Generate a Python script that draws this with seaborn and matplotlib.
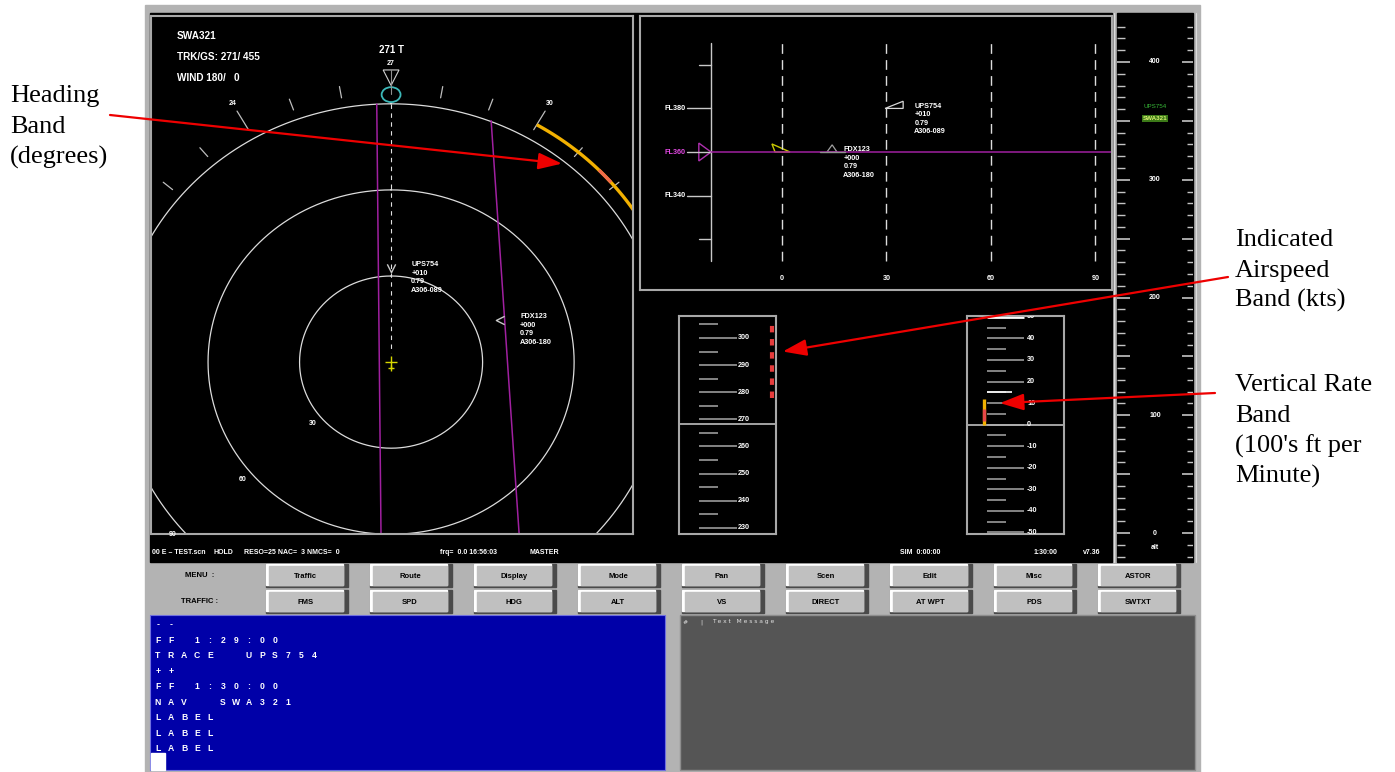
import numpy as np
import pandas as pd
import matplotlib
matplotlib.use("Agg")
import matplotlib.pyplot as plt
from matplotlib import font_manager
from matplotlib.patches import Rectangle, Polygon, Ellipse
from matplotlib.path import Path
import seaborn as sns

sns.set_style("white")
installed = {f.name for f in font_manager.fontManager.ttflist}
UI_FONT = 'Liberation Sans Narrow' if 'Liberation Sans Narrow' in installed else 'Liberation Sans'
SERIF = 'Liberation Serif' if 'Liberation Serif' in installed else 'DejaVu Serif'
plt.rcParams['font.family'] = [UI_FONT, 'DejaVu Sans']

W, H = 1395, 772

# ---------------- data ----------------
own_id = "SWA321"
own_track = 271
own_gs = 455
wind_dir, wind_spd = 180, 0
own_fl = 360
own_ias = 268.3
rose_up = 270          # heading drawn at the top of the rose

# radar (nm, ownship at origin)
ring_nm = [30, 60, 90]
ring_label_rel = 230
hdg_ticks = list(range(180, 370, 10))
hdg_labels = [240, 270, 300]
hdg_band_yellow = [300, 330]
hdg_band_red = [315.5, 319]
hdg_band_r = 95.5
route1_x = [-4.7, -3.3]
route1_y = [89.9, -60.3]
route2_x = [32.8, 42.0]
route2_y = [84.1, -60.3]

traffic_ids = ["UPS754", "FDX123"]
traffic_x = [0.0, 35.7]
traffic_y = [32.8, 14.6]
traffic_vs = ["+010", "+000"]
traffic_mach = ["0.79", "0.79"]
traffic_type = ["A306-089", "A306-180"]

# vertical profile (nm vs FL)
prof_fl_ticks = [320, 340, 360, 380, 400]
prof_fl_labels = [340, 360, 380]
prof_dist_ticks = [0, 30, 60, 90]
prof_traffic_dist = [34.8, 14.4]
prof_traffic_fl = [380, 360]

# speed band (kts)
ias_ticks = [230, 240, 250, 260, 270, 280, 290, 300]
ias_minor = [235, 245, 255, 265, 275, 285, 295, 305]
ias_band = [278, 306]

# vertical rate band (100 ft/min)
vs_ticks = [-50, -40, -30, -20, -10, 0, 10, 20, 30, 40, 50]
vs_minor = [-45, -35, -25, -15, -5, 5, 15, 25, 35, 45]
vs_band_yellow = [0, 12]
vs_band_red = [1.8, 7.4]
vs_target = 15

# altitude tape
alt_labels = [0, 100, 200, 300, 400]
alt_tags = ["UPS754", "SWA321"]
alt_tag_vals = [362, 352]

# status bar / buttons / console
status_text = ["00 E \u2013 TEST.scn", "HOLD", "RESO=25 NAC=  3 NMCS=  0", "frq=  0.0 16:56:03",
               "MASTER", "SIM  0:00:00", "1:30:00", "v7.36"]
status_x = [152, 214, 244, 440, 530, 900, 1034, 1083]
menu_buttons = ["Traffic", "Route", "Display", "Mode", "Pan", "Scen", "Edit", "Misc", "ASTOR"]
traffic_buttons = ["FMS", "SPD", "HDG", "ALT", "VS", "DIRECT", "AT WPT", "PDS", "SWTXT"]
console_lines = ["--", "FF 1:29:00", "TRACE  UPS754", "++", "FF 1:30:00", "NAV  SWA321",
                 "LABEL", "LABEL", "LABEL"]


def hdg_xy(hdg, r):
    a = np.radians(np.asarray(hdg, dtype=float) - rose_up)
    return r * np.sin(a), r * np.cos(a)


fig = plt.figure(figsize=(W / 100, H / 100), dpi=100)
fig.patch.set_facecolor('white')


def add_px_axes(x0, y0, x1, y1, **kw):
    return fig.add_axes([x0 / W, 1 - y1 / H, (x1 - x0) / W, (y1 - y0) / H], **kw)


def panel(ax, edge='#a8a8a8', lw=1.5):
    ax.set_facecolor('black')
    ax.set_xticks([]); ax.set_yticks([])
    ax.set_xlabel(''); ax.set_ylabel('')
    for s in ax.spines.values():
        s.set_color(edge); s.set_linewidth(lw)


# ---------------- background / chrome ----------------
bg = add_px_axes(0, 0, W, H)
bg.set_xlim(0, W); bg.set_ylim(H, 0); bg.axis('off')
bg.add_patch(Rectangle((145, 5), 1055, 767, color='#b3b3b3'))
bg.add_patch(Rectangle((150, 13), 962, 549, color='black'))
bg.add_patch(Rectangle((1117, 13), 76, 549, color='black'))
bg.plot([1114, 1114], [13, 562], color='#dcdcdc', lw=0.8)
bg.plot([1196, 1196], [13, 562], color='#dcdcdc', lw=0.8)

btn_x0, btn_step, btn_w, btn_h = 266, 104, 82, 23
for labels, y0, head in zip([menu_buttons, traffic_buttons], [564, 590], ["MENU  :", "TRAFFIC :"]):
    bg.text(200, y0 + btn_h / 2, head, ha='center', va='center', fontsize=5.5,
            fontweight='bold', color='black')
    for i, lab in enumerate(labels):
        x0 = btn_x0 + i * btn_step
        bg.add_patch(Rectangle((x0, y0), btn_w, btn_h, color='#4a4a4a'))
        bg.add_patch(Rectangle((x0, y0), btn_w - 5, btn_h - 2, color='white'))
        bg.add_patch(Rectangle((x0 + 3, y0 + 2), btn_w - 8, btn_h - 4, color='#c0c0c0'))
        bg.text(x0 + btn_w / 2 - 1, y0 + btn_h / 2 + 0.5, lab, ha='center', va='center',
                fontsize=5.5, fontweight='bold', color='black')

bg.add_patch(Rectangle((150, 615), 515, 155, facecolor='#0000a8', edgecolor='#7070e0', lw=0.8))
bg.add_patch(Rectangle((151, 753), 14, 17, color='white'))
for j, line in enumerate(console_lines):
    for i, ch in enumerate(line):
        if ch != ' ':
            bg.text(158 + i * 13, 625 + j * 15.45, ch, ha='center', va='center',
                    fontsize=6.2, fontweight='bold', color='white')

bg.add_patch(Rectangle((680, 615), 515, 155, facecolor='#555555', edgecolor='#8e8e8e', lw=1))
bg.text(683, 622, "#", ha='left', va='center', fontsize=4.5, color='#e0e0e0', family='DejaVu Sans')
bg.text(700, 622, "|", ha='left', va='center', fontsize=4.5, color='#e0e0e0', family='DejaVu Sans')
bg.text(712, 622, "T e x t   M e s s a g e", ha='left', va='center', fontsize=4.3,
        color='#e0e0e0', family='DejaVu Sans')

for s, x in zip(status_text, status_x):
    bg.text(x, 553, s, ha='left', va='center', fontsize=5.0, fontweight='bold', color='white')

# ---------------- radar ----------------
ax_r = add_px_axes(151, 16, 633, 534)
theta = np.linspace(0, 2 * np.pi, 721)
ring_df = pd.concat([pd.DataFrame({'x': r * np.sin(theta), 'y': r * np.cos(theta), 'ring': r})
                     for r in ring_nm], ignore_index=True)
sns.lineplot(data=ring_df, x='x', y='y', units='ring', estimator=None, sort=False,
             color='#dcdcdc', linewidth=0.9, ax=ax_r, legend=False)
panel(ax_r)
ax_r.set_xlim(-78.7, 79.3)
ax_r.set_ylim(-59.9, 120.6)

for h in hdg_ticks:
    if h == rose_up:
        continue
    r1 = 101 if h in hdg_labels else 97.5
    x0, y0 = hdg_xy(h, 93.5)
    x1, y1 = hdg_xy(h, r1)
    ax_r.plot([x0, x1], [y0, y1], color='#bdbdbd', lw=0.9)
for h in hdg_labels:
    x, y = hdg_xy(h, 104)
    ax_r.text(x, y, f"{h // 10}", ha='center', va='center', fontsize=5, fontweight='bold', color='white')

band = np.linspace(hdg_band_yellow[0], hdg_band_yellow[1], 60)
ax_r.plot(*hdg_xy(band, hdg_band_r), color='#f2b100', lw=2.4, solid_capstyle='butt')
band = np.linspace(hdg_band_red[0], hdg_band_red[1], 20)
ax_r.plot(*hdg_xy(band, hdg_band_r), color='#f06a4a', lw=2.4, solid_capstyle='butt')

ax_r.plot(route1_x, route1_y, color='#a020a0', lw=1.1)
ax_r.plot(route2_x, route2_y, color='#a020a0', lw=1.1)

# track marker
ax_r.text(0, 108.7, f"{own_track} T", ha='center', va='center', fontsize=7, fontweight='bold', color='white')
ax_r.add_patch(Polygon([(-2.6, 101.8), (2.6, 101.8), (0, 96.4)], closed=True, fill=False,
                       edgecolor='#d0d0d0', lw=0.8))
ax_r.plot([0, 0], [101.8, 93.5], color='#909090', lw=0.8)
ax_r.add_patch(Ellipse((0, 93.2), 6.2, 5.2, fill=False, edgecolor='#3cb8b8', lw=1.3))
ax_r.plot([0, 0], [90, 3], color='#e0e0e0', lw=0.8, dashes=(4, 4))

# ownship
ax_r.plot([0], [0], marker='+', ms=9, mew=1, color='#d6d600')
ax_r.plot([0], [-2.1], marker='+', ms=4, mew=1, color='#d6d600')

for r in ring_nm:
    x, y = hdg_xy(rose_up + ring_label_rel, r + 3.5)
    ax_r.text(x, y, f"{r}", ha='center', va='center', fontsize=5, fontweight='bold', color='white')

chev_down = Path([(-1, 1), (0, -1), (1, 1)], [Path.MOVETO, Path.LINETO, Path.LINETO])
chev_left = Path([(1, 1), (-1, 0), (1, -1)], [Path.MOVETO, Path.LINETO, Path.LINETO])
for tid, tx, ty, vs, mach, typ, mk in zip(traffic_ids, traffic_x, traffic_y, traffic_vs,
                                          traffic_mach, traffic_type, [chev_down, chev_left]):
    ax_r.plot([tx], [ty], marker=mk, ms=6, mfc='none', mec='#c8c8c8', mew=1)
    ax_r.annotate(f"{tid}\n{vs}\n{mach}\n{typ}", xy=(tx, ty), xytext=(14.5, 5),
                  textcoords='offset points', ha='left', va='top', fontsize=5.2,
                  fontweight='bold', color='white', linespacing=1.3)

# ---------------- vertical profile ----------------
ax_p = add_px_axes(640, 16, 1112, 290)
panel(ax_p)
ax_p.set_xlim(-40.8, 94.8)
ax_p.set_ylim(296.7, 422.4)
ax_p.plot([-20.4, -20.4], [310, 410], color='#c8c8c8', lw=1)
for fl in prof_fl_ticks:
    x0 = -27.3 if fl in prof_fl_labels else -23.9
    ax_p.plot([x0, -20.4], [fl, fl], color='#c8c8c8', lw=1)
for fl in prof_fl_labels:
    c = '#e048e0' if fl == own_fl else 'white'
    ax_p.text(-27.6, fl, f"FL{fl}", ha='right', va='center', fontsize=5.2, fontweight='bold', color=c)
for d in prof_dist_ticks:
    ax_p.plot([d, d], [310, 410], color='#dcdcdc', lw=1, dashes=(7, 4.5))
    ax_p.text(d, 302.2, f"{d}", ha='center', va='center', fontsize=5.2, fontweight='bold', color='white')
ax_p.plot([-20.4, 94.8], [own_fl, own_fl], color='#a020a0', lw=1.1)
ax_p.add_patch(Polygon([(-23.9, 364.1), (-23.9, 355.9), (-20.4, own_fl)], closed=True, fill=False,
                       edgecolor='#b030b0', lw=1))
ax_p.add_patch(Polygon([(-2.9, 363.7), (-2.0, own_fl), (2.3, own_fl)], closed=True, fill=False,
                       edgecolor='#c8c800', lw=1))
ux, fx = prof_traffic_dist
ufl, ffl = prof_traffic_fl
ax_p.plot([fx - 3.5, fx + 3.7], [ffl, ffl], color='#909090', lw=1)
ax_p.add_patch(Polygon([(fx - 1.5, ffl), (fx, ffl + 3.3), (fx + 1.4, ffl)], closed=True, fill=False,
                       edgecolor='#a0a0a0', lw=0.9))
ax_p.add_patch(Polygon([(ux - 5.2, ufl), (ux, ufl + 3.3), (ux, ufl)], closed=True, fill=False,
                       edgecolor='#d8d8d8', lw=0.9))
for tid, d, fl, vs, mach, typ in zip(traffic_ids, prof_traffic_dist, prof_traffic_fl,
                                     traffic_vs, traffic_mach, traffic_type):
    ax_p.annotate(f"{tid}\n{vs}\n{mach}\n{typ}", xy=(d, fl), xytext=(8, 4),
                  textcoords='offset points', ha='left', va='top', fontsize=5.2,
                  fontweight='bold', color='white', linespacing=1.3)

# ---------------- speed band ----------------
ax_s = add_px_axes(679, 316, 776, 534)
panel(ax_s)
ax_s.set_xlim(0, 1)
ax_s.set_ylim(227.7, 308.1)
ax_s.hlines(ias_ticks, 0.206, 0.598, color='#a8a8a8', lw=1.1)
ax_s.hlines(ias_minor, 0.206, 0.40, color='#a8a8a8', lw=1.1)
for v in ias_ticks:
    ax_s.text(0.61, v, f"{v}", ha='left', va='center', fontsize=5.2, fontweight='bold',
              color='white', clip_on=True)
ax_s.axhline(own_ias, color='#b0b0b0', lw=1.3)
ax_s.vlines(0.955, ias_band[0], ias_band[1], color='#e63c3c', lw=3, linestyles=[(0, (1.55, 1.6))])

# ---------------- vertical rate band ----------------
ax_v = add_px_axes(967, 316, 1064, 534)
panel(ax_v)
ax_v.set_xlim(0, 1)
ax_v.set_ylim(-50.7, 50.4)
ax_v.hlines(vs_ticks, 0.206, 0.59, color='#a8a8a8', lw=1.1)
ax_v.hlines(vs_minor, 0.206, 0.40, color='#a8a8a8', lw=1.1)
ax_v.hlines([vs_ticks[-1]], 0.206, 0.59, color='white', lw=2)
ax_v.hlines([vs_target], 0.206, 0.46, color='white', lw=1.2)
for v in vs_ticks:
    ax_v.text(0.62, v, f"{v}", ha='left', va='center', fontsize=5.2, fontweight='bold',
              color='white', clip_on=True)
ax_v.axhline(0, color='#b0b0b0', lw=1.3)
ax_v.vlines(0.175, vs_band_yellow[0], vs_band_yellow[1], color='#f2b100', lw=2.4)
ax_v.vlines(0.175, vs_band_red[0], vs_band_red[1], color='#e84848', lw=2.4)

# ---------------- altitude tape ----------------
ax_a = add_px_axes(1117, 15, 1193, 562)
panel(ax_a, edge='black', lw=0)
ax_a.set_xlim(0, 1)
ax_a.set_ylim(-24.6, 439.9)
alt_ticks = np.arange(-20, 440, 10)
major = alt_ticks[alt_ticks % 50 == 0]
minor = alt_ticks[alt_ticks % 50 != 0]
ax_a.hlines(minor, 0, 0.105, color='#c4c4c4', lw=1)
ax_a.hlines(major, 0, 0.165, color='#c4c4c4', lw=1.2)
ax_a.hlines(minor, 0.92, 1, color='#c4c4c4', lw=1)
ax_a.hlines(major, 0.86, 1, color='#c4c4c4', lw=1.2)
for v in alt_labels:
    ax_a.text(0.5, v, f"{v}", ha='center', va='center', fontsize=5, fontweight='bold', color='white')
ax_a.text(0.5, -12, "alt", ha='center', va='center', fontsize=5, fontweight='bold', color='white')
ax_a.text(0.5, alt_tag_vals[0], alt_tags[0], ha='center', va='center', fontsize=4.5, color='#38b838')
ax_a.text(0.5, alt_tag_vals[1], alt_tags[1], ha='center', va='center', fontsize=4.5, color='#d8f070',
          fontweight='bold', bbox=dict(boxstyle='square,pad=0.1', facecolor='#3c7a18', edgecolor='none'))

# ---------------- overlay: header text and call-outs ----------------
top = add_px_axes(0, 0, W, H)
top.set_zorder(20)
top.set_xlim(0, W); top.set_ylim(H, 0); top.axis('off')
top.patch.set_alpha(0)

for y, s in zip([36, 57, 78], [own_id, f"TRK/GS: {own_track}/ {own_gs}", f"WIND {wind_dir}/   {wind_spd}"]):
    top.text(177, y, s, ha='left', va='center', fontsize=7.2, fontweight='bold', color='white')

callouts = [
    (["Heading", "Band", "(degrees)"], 10, [102, 133, 164], (110, 115), hdg_xy(309, 89), ax_r),
    (["Indicated", "Airspeed", "Band (kts)"], 1235, [246, 277, 307], (1228, 277), (1.07, 295), ax_s),
    (["Vertical Rate", "Band", "(100's ft per", "Minute)"], 1235, [391, 422, 453, 483], (1215, 393),
     (0.34, 10), ax_v),
]
for lines, x, ys, start, tip, target in callouts:
    for s, y in zip(lines, ys):
        top.text(x, y, s, ha='left', va='baseline', fontsize=19, color='black', family=SERIF)
    top.annotate('', xy=tip, xycoords=target.transData, xytext=start, textcoords=top.transData,
                 arrowprops=dict(arrowstyle='-|>,head_length=1.2,head_width=0.42', color='#ee0000',
                                 lw=1.6, shrinkA=0, shrinkB=0, mutation_scale=12))

fig.savefig('out.png', dpi=100, facecolor='white')
